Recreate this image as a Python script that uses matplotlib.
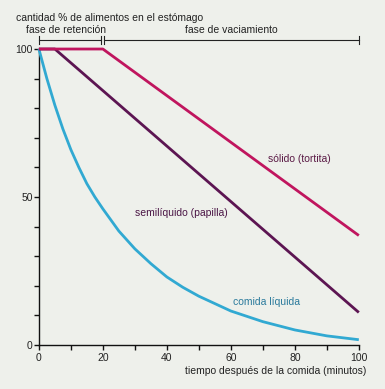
import matplotlib
matplotlib.use("Agg")
import matplotlib.pyplot as plt

# Data
solid_x = [0, 20, 100]
solid_y = [100, 100, 37]
semi_x = [0, 5, 100]
semi_y = [100, 100, 11]
liquid_x = [0, 2.5, 5, 7.5, 10, 12.5, 15, 17.5, 20, 25, 30, 35, 40, 45, 50, 60, 70, 80, 90, 100]
liquid_y = [100, 90, 81, 73, 66, 60, 54.5, 50, 46, 38.5, 32.5, 27.5, 23, 19.5, 16.5, 11.5, 7.9, 5.1, 3.1, 1.8]

x_major = [0, 20, 40, 60, 80, 100]
x_minor = [10, 30, 50, 70, 90]
y_major = [0, 50, 100]
y_minor = [10, 20, 30, 40, 60, 70, 80, 90]

c_solid = "#c0155e"
c_semi = "#5c1552"
c_liquid = "#31a9d2"
bg = "#eef0eb"

plt.rcParams['font.family'] = ['Liberation Sans', 'DejaVu Sans']
fs = 7.5

fig = plt.figure(figsize=(3.85, 3.89), dpi=100, facecolor=bg)
ax = fig.add_axes([0.101, 0.113, 0.831, 0.761], facecolor=bg)
ax.set_xlim(0, 100)
ax.set_ylim(0, 100)

lw = 2.0
ax.plot(liquid_x, liquid_y, color=c_liquid, lw=lw, clip_on=False, solid_capstyle='butt',
        solid_joinstyle='round', zorder=3)
ax.plot(semi_x, semi_y, color=c_semi, lw=lw, clip_on=False, solid_capstyle='butt', zorder=4)
ax.plot(solid_x, solid_y, color=c_solid, lw=lw, clip_on=False, solid_capstyle='butt', zorder=5)

for s in ['top', 'right']:
    ax.spines[s].set_visible(False)
for s in ['left', 'bottom']:
    ax.spines[s].set_linewidth(1.0)
    ax.spines[s].set_color('#111111')

ax.set_xticks(x_major)
ax.set_xticks(x_minor, minor=True)
ax.set_yticks(y_major)
ax.set_yticks(y_minor, minor=True)
ax.tick_params(axis='both', which='both', direction='out', length=3.5, width=1.0,
               color='#111111', labelsize=fs, labelcolor='#222222', pad=2)
ax.tick_params(axis='y', pad=1)

# curve labels
ax.text(81.5, 63, "sólido (tortita)", color="#5a1a45", fontsize=fs, ha='center', va='center')
ax.text(44.5, 44.5, "semilíquido (papilla)", color="#4a1545", fontsize=fs, ha='center', va='center')
ax.text(71, 14.5, "comida líquida", color="#2a7a9c", fontsize=fs, ha='center', va='center')

# header
ax.text(-7.1, 110.5, "cantidad % de alimentos en el estómago", fontsize=fs, color='#222222',
        ha='left', va='center', clip_on=False)
ax.text(8.6, 106.4, "fase de retención", fontsize=fs, color='#222222',
        ha='center', va='center', clip_on=False)
ax.text(60, 106.4, "fase de vaciamiento", fontsize=fs, color='#222222',
        ha='center', va='center', clip_on=False)

yb = 103
h = 1.3
lk = dict(color='#222222', lw=0.8, clip_on=False)
ax.plot([0, 19.5], [yb, yb], **lk)
ax.plot([20.3, 100], [yb, yb], **lk)
for xv in [0, 19.5, 20.3, 100]:
    ax.plot([xv, xv], [yb - h, yb + h], **lk)

ax.text(102.5, -8.7, "tiempo después de la comida (minutos)", fontsize=fs, color='#222222',
        ha='right', va='center', clip_on=False)

fig.savefig("out.png", dpi=100, facecolor=bg)
